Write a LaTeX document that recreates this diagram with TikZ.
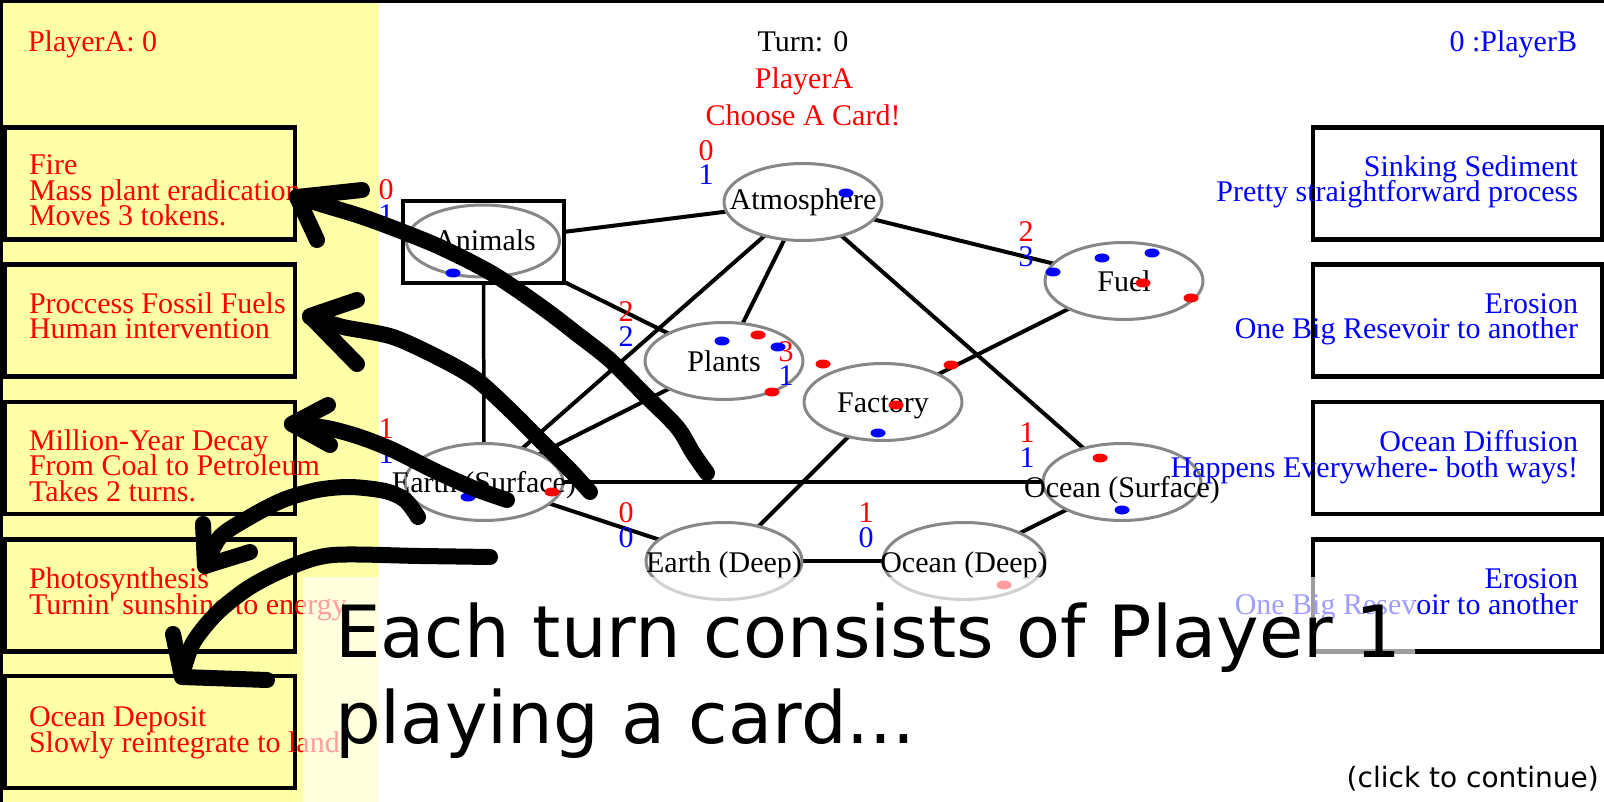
\documentclass[tikz,border=0pt]{standalone}
\usepackage{fontspec}
\setmainfont{Liberation Serif}[Ligatures=TeXOff]
\newfontfamily\sansbig{DejaVu Sans}
\usetikzlibrary{shapes.geometric}
\pgfdeclarelayer{background}
\pgfdeclarelayer{foreground}
\pgfsetlayers{background,main,foreground}
\definecolor{panel}{RGB}{255,255,168}
\definecolor{pred}{RGB}{255,0,0}
\definecolor{pblue}{RGB}{0,0,255}
\definecolor{ringgray}{RGB}{135,135,135}
\newcommand\tokdotR[1]{\fill[pred] #1 ellipse [x radius=7.5, y radius=4.5];}
\newcommand\tokdotB[1]{\fill[pblue] #1 ellipse [x radius=7.5, y radius=4.5];}
\tikzset{
  basetxt/.style={inner sep=0, outer sep=0, font=\fontsize{30}{25.5}\selectfont},
  redtxt/.style={basetxt, text=pred},
  bluetxt/.style={basetxt, text=pblue},
  blacktxt/.style={basetxt, text=black},
  lcard/.style={draw=black, fill=panel, line width=4.5, minimum width=290, minimum height=112, inner sep=0},
  rcard/.style={draw=black, fill=white, line width=4.5, minimum width=289, minimum height=112, inner sep=0},
  ell/.style={ellipse, draw=ringgray, fill=white, line width=3, minimum width=158, minimum height=77, inner sep=0},
  edge/.style={draw=black, line width=4},
  annot/.style={draw=black, line width=16, line cap=round, line join=round},
}
\begin{document}
\lineskiplimit=-30pt
\begin{tikzpicture}[x=1pt,y=-1pt]
\useasboundingbox (0,0) rectangle (1604,802);
\begin{pgfonlayer}{background}
  \fill[panel] (0,0) rectangle (379,802);
\end{pgfonlayer}
% frame
\draw[line width=6] (0,0) -- (1604,0);
\draw[line width=6] (0,0) -- (0,802);

% header texts
\node[redtxt, anchor=base west] (scoreA) at (28,52) {PlayerA: 0};
\node[bluetxt, anchor=base east] (scoreB) at (1577,52) {0 :PlayerB};
\node[blacktxt, anchor=base] (turn) at (803,52) {Turn: 0};
\node[redtxt, anchor=base] (who) at (804,89) {PlayerA};
\node[redtxt, anchor=base] (choose) at (803,126) {Choose A Card!};

% left cards
\node[lcard] (c1) at (150,183.5) {};
\node[lcard] (c2) at (150,320.5) {};
\node[lcard] (c3) at (150,458) {};
\node[lcard] (c4) at (150,595.5) {};
\node[lcard] (c5) at (150,732) {};
\node[redtxt, anchor=base west, align=left] (c1t) at (29,226) {Fire\\Mass plant eradication\\Moves 3 tokens.};
\node[redtxt, anchor=base west, align=left] (c2t) at (29,339) {Proccess Fossil Fuels\\Human intervention};
\node[redtxt, anchor=base west, align=left] (c3t) at (29,501) {Million-Year Decay\\From Coal to Petroleum\\Takes 2 turns.};
\node[redtxt, anchor=base west, align=left] (c4t) at (29,614) {Photosynthesis\\Turnin' sunshine to energy};
\node[redtxt, anchor=base west, align=left] (c5t) at (29,752) {Ocean Deposit\\Slowly reintegrate to land};

% right cards
\node[rcard] (d1) at (1457.5,183.5) {};
\node[rcard] (d2) at (1457.5,320.5) {};
\node[rcard] (d3) at (1457.5,458) {};
\node[rcard] (d4) at (1457.5,595.5) {};

% graph nodes
\node[draw=black, fill=white, line width=3.5, minimum width=161, minimum height=82, inner sep=0] (anR) at (483.5,242) {};
\node[ell, minimum width=153, minimum height=72] (anE) at (483,241) {};
\node[ell] (atm) at (803,202) {};
\node[ell] (pla) at (724,361) {};
\node[ell] (fac) at (883,402) {};
\node[ell] (fuel) at (1124,281) {};
\node[ell] (eS) at (484,482) {};
\node[ell, minimum width=156] (eD) at (724,561) {};
\node[ell, minimum width=162] (oD) at (964,561) {};
\node[ell] (oS) at (1122,482) {};

\begin{pgfonlayer}{background}
  \draw[edge] (anR.center) -- (atm.center);
  \draw[edge] (anR.center) -- (pla.center);
  \draw[edge, line width=3.5] (anR.center) -- (eS.center);
  \draw[edge] (atm.center) -- (pla.center);
  \draw[edge] (atm.center) -- (eS.center);
  \draw[edge] (atm.center) -- (fuel.center);
  \draw[edge] (atm.center) -- (oS.center);
  \draw[edge] (pla.center) -- (eS.center);
  \draw[edge] (fuel.center) -- (fac.center);
  \draw[edge] (fac.center) -- (eD.center);
  \draw[edge] (eS.center) -- (oS.center);
  \draw[edge] (eS.center) -- (eD.center);
  \draw[edge] (eD.center) -- (oD.center);
  \draw[edge] (oD.center) -- (oS.center);
\end{pgfonlayer}

% node texts
\node[blacktxt, anchor=base] (anT) at (485,251) {Animals};
\node[blacktxt, anchor=base] (atmT) at (803,210) {Atmosphere};
\node[blacktxt, anchor=base] (plaT) at (724,371) {Plants};
\node[blacktxt, anchor=base] (facT) at (883,412) {Factory};
\node[blacktxt, anchor=base] (fuelT) at (1124,292) {Fuel};
\node[blacktxt, anchor=base] (eST) at (484,492) {Earth (Surface)};
\node[blacktxt, anchor=base] (eDT) at (724,572) {Earth (Deep)};
\node[blacktxt, anchor=base] (oDT) at (964,572) {Ocean (Deep)};
\node[blacktxt, anchor=base] (oST) at (1122,497) {Ocean (Surface)};

% right card texts (drawn over the graph)
\node[bluetxt, anchor=base east, align=right] (d1t) at (1578,202) {Sinking Sediment\\Pretty straightforward process};
\node[bluetxt, anchor=base east, align=right] (d2t) at (1578,339) {Erosion\\One Big Resevoir to another};
\node[bluetxt, anchor=base east, align=right] (d3t) at (1578,477) {Ocean Diffusion\\Happens Everywhere- both ways!};
\node[bluetxt, anchor=base east, align=right] (d4t) at (1578,614) {Erosion\\One Big Resevoir to another};

% token counts
\node[redtxt, anchor=base] (anNr) at (386,200) {0};
\node[bluetxt, anchor=base] (anNb) at (386,225) {1};
\node[redtxt, anchor=base] (atmNr) at (706,161) {0};
\node[bluetxt, anchor=base] (atmNb) at (706,185) {1};
\node[redtxt, anchor=base] (plaNr) at (626,322) {2};
\node[bluetxt, anchor=base] (plaNb) at (626,347) {2};
\node[redtxt, anchor=base] (facNr) at (786,361) {3};
\node[bluetxt, anchor=base] (facNb) at (786,385) {1};
\node[redtxt, anchor=base] (fuelNr) at (1026,242) {2};
\node[bluetxt, anchor=base] (fuelNb) at (1026,267) {3};
\node[redtxt, anchor=base] (eSNr) at (386,438) {1};
\node[bluetxt, anchor=base] (eSNb) at (386,463) {1};
\node[redtxt, anchor=base] (eDNr) at (626,522) {0};
\node[bluetxt, anchor=base] (eDNb) at (626,547) {0};
\node[redtxt, anchor=base] (oDNr) at (866,522) {1};
\node[bluetxt, anchor=base] (oDNb) at (866,547) {0};
\node[redtxt, anchor=base] (oSNr) at (1027,442) {1};
\node[bluetxt, anchor=base] (oSNb) at (1027,467) {1};

% tokens
\tokdotB{(846,193)}
\tokdotB{(453,273)}
\tokdotB{(722,341)} \tokdotR{(758,335)} \tokdotB{(778,347)} \tokdotR{(772,392)}
\tokdotR{(823,364)} \tokdotR{(951,365)} \tokdotR{(896,405)} \tokdotB{(878,433)}
\tokdotB{(1053,272)} \tokdotB{(1102,258)} \tokdotB{(1152,253)} \tokdotR{(1143,283)} \tokdotR{(1191,298)}
\tokdotB{(468,497)} \tokdotR{(552,492)}
\tokdotR{(1100,458)} \tokdotB{(1122,510)}
\tokdotR{(1004,585)}

% hand-drawn arrows
\begin{pgfonlayer}{foreground}
\draw[annot] plot[smooth, tension=0.5] coordinates {(707,473) (693,453) (677,427) (643,393) (610,360) (577,334) (543,308) (493,274) (440,247) (393,228) (360,216) (327,206) (297,197)};
\draw[annot] (362,190) -- (297,197) -- (317,240);
\draw[annot] plot[smooth, tension=0.5] coordinates {(590,492) (570,470) (543,443) (510,410) (477,380) (443,360) (393,337) (343,327) (310,317)};
\draw[annot] (357,300) -- (310,316) -- (357,364);
\draw[annot] plot[smooth, tension=0.5] coordinates {(507,500) (473,488) (433,470) (393,450) (360,437) (327,428) (292,424)};
\draw[annot] (328,405) -- (292,424) -- (330,445);
\draw[annot] plot[smooth, tension=0.5] coordinates {(418,517) (405,500) (385,491) (350,487) (317,490) (283,500) (250,517) (220,537) (205,566)};
\draw[annot] (203,524) -- (205,566) -- (250,552);
\draw[annot] plot[smooth, tension=0.5] coordinates {(490,557) (420,556) (333,555) (290,567) (250,587) (217,613) (193,643) (182,675)};
\draw[annot] (173,634) -- (182,677) -- (267,680);

% overlay message
\fill[white, opacity=0.62] (303,577) rectangle (1415,802);
\node[inner sep=0, anchor=base west, align=left, font=\sansbig\fontsize{72}{86}\selectfont] (msg) at (335,743) {Each turn consists of Player 1\\playing a card...};
\node[inner sep=0, anchor=base east, font=\sansbig\fontsize{28}{30}\selectfont] (cont) at (1599,787) {(click to continue)};
\end{pgfonlayer}
\end{tikzpicture}
\end{document}
